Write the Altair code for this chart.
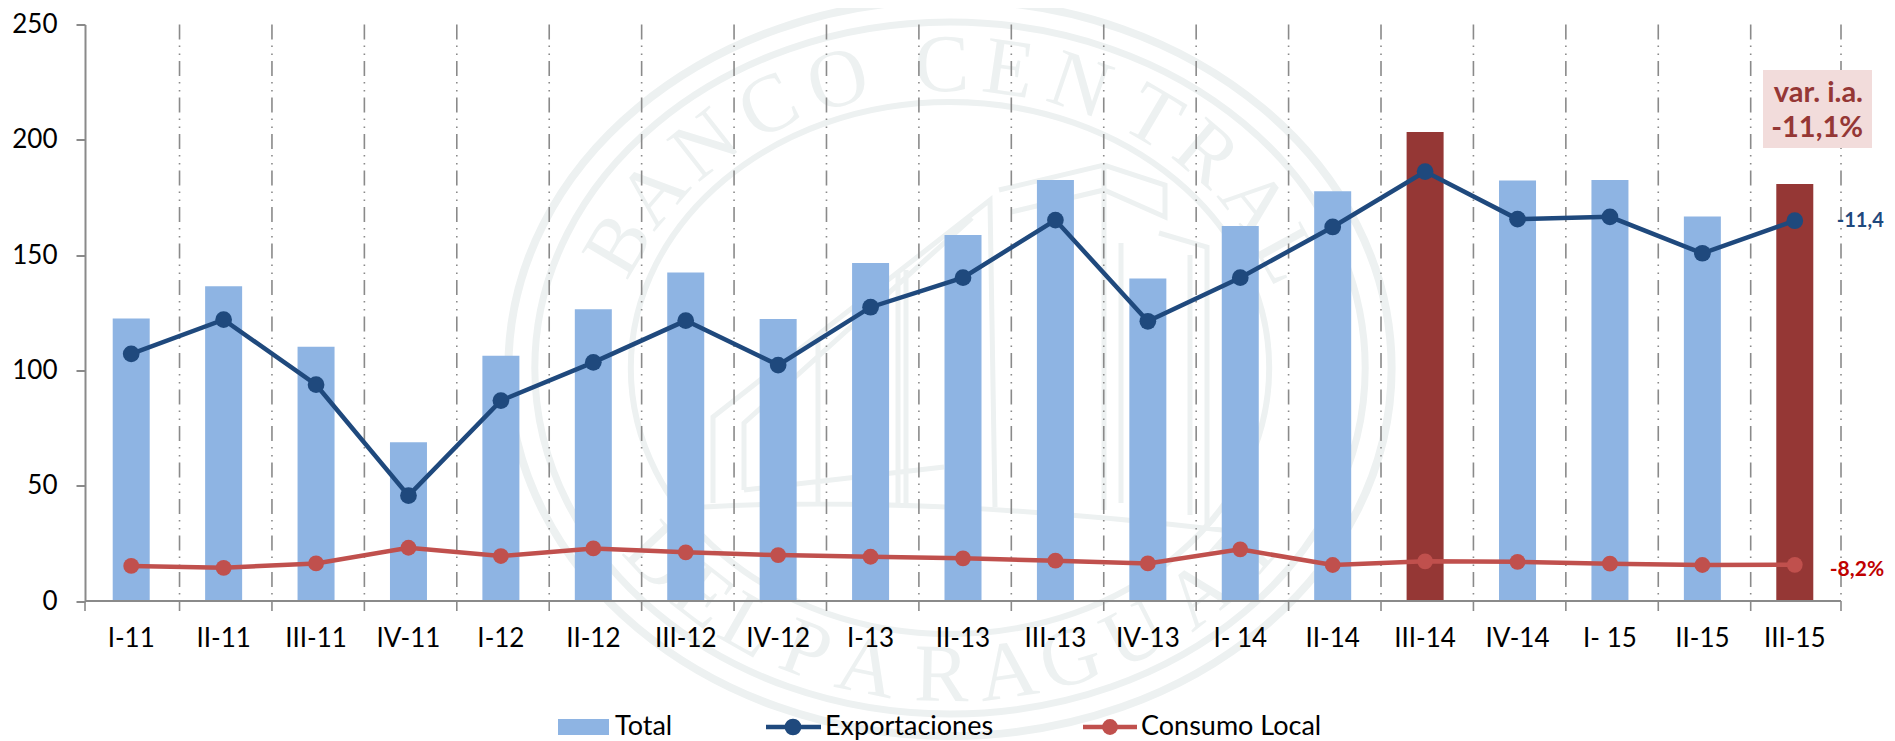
import math
import altair as alt
import pandas as pd

categories = ["I-11","II-11","III-11","IV-11","I-12","II-12","III-12","IV-12","I-13","II-13","III-13","IV-13","I- 14","II-14","III-14","IV-14","I- 15","II-15","III-15"]
total = [122.5,136.5,110.3,68.8,106.4,126.5,142.5,122.3,146.6,158.7,182.6,139.8,162.6,177.7,203.4,182.4,182.6,166.7,180.8]
exportaciones = [107.2,122.0,93.8,45.7,86.9,103.5,121.6,102.3,127.4,140.2,165.2,121.3,140.2,162.2,186.2,165.6,166.6,150.8,164.9]
consumo = [15.2,14.4,16.3,23.1,19.5,22.8,21.1,19.9,19.2,18.5,17.5,16.3,22.4,15.6,17.2,17.0,16.2,15.6,15.7]
highlight = ["III-14","III-15"]
y_ticks = [0,50,100,150,200,250]
series_names = ["Total","Exportaciones","Consumo Local"]
seal_top = list("BANCOCENTRAL")
seal_top_deg = [-66,-54.7,-42.5,-30,-18,-1.3,9.3,21,34,45,57,68]
seal_bottom = list("DELPARAGUAY")
seal_bottom_deg = [-52,-42,-33,-23,-13,-1.3,9,19,30,42.5,54]

W, H = 1756, 576.5
L, T = 85, 24.5
STEP = W / len(categories)
GAP = STEP * 0.3
FONT = "Lato"
GRID = "#8a8a8a"
WM = "#EDF1F1"

df = pd.DataFrame({"cat": categories, "total": total, "exp": exportaciones, "loc": consumo})
df["kind"] = ["red" if c in highlight else "blue" for c in categories]
xs = alt.Scale(domain=categories, paddingInner=0.6, paddingOuter=0.3)
ys = alt.Scale(domain=[0, 250], nice=False)
X = alt.X("cat:N", sort=categories, scale=xs, axis=None)
XE = alt.X("cat:N", sort=categories, scale=xs, axis=None, bandPosition=0)
one = pd.DataFrame({"a": [0]})

# watermark
CX, CY = 950 - L, 368 - T
def ellipse(rx, ry):
    return f"M{-rx},0A{rx},{ry} 0 1,1 {rx},0A{rx},{ry} 0 1,1 {-rx},0Z"
rings = []
for ry, sw in [(368, 8), (346, 7), (266, 6)]:
    rings.append(alt.Chart(one).mark_point(shape=ellipse(1.2, 1), size=(2*ry)**2, stroke=WM, strokeWidth=sw, fill=None, opacity=1, filled=False)
                 .encode(x=alt.value(CX), y=alt.value(CY)))
rows = []
for ch, d in zip(seal_top, seal_top_deg):
    a = math.radians(d)
    rows.append({"t": ch, "px": CX + 1.2*302*math.sin(a), "py": CY - 302*math.cos(a), "rot": (d*0.9) % 360})
for ch, d in zip(seal_bottom, seal_bottom_deg):
    a = math.radians(d)
    rows.append({"t": ch, "px": CX + 1.2*308*math.sin(a), "py": CY + 308*math.cos(a), "rot": (-d*0.9) % 360})
letters = alt.Chart(pd.DataFrame(rows)).mark_text(font="Liberation Serif", fontSize=82, color=WM, baseline="middle", align="center").encode(
    x=alt.X("px:Q", scale=None), y=alt.Y("py:Q", scale=None), text="t:N", angle=alt.Angle("rot:Q", scale=None))
building_path = (
    "M704,507Q917,495 1222,530"
    "M713,503L713,417L990,200L995,507"
    "M744,490L744,423L972,218"
    "M744,490L944,467"
    "M818,503L818,340M898,503L898,273M906,503L906,270"
    "M999,190L1104,165L1165,185L1165,217L1104,190L1011,212"
    "M1121,503L1121,243M1159,233L1207,247L1207,527M1190,255L1190,515M1104,165L1104,510"
)
building = alt.Chart(one).mark_point(shape=building_path, size=4, stroke=WM, strokeWidth=5, fill=None, opacity=1, filled=False).encode(x=alt.value(-L), y=alt.value(-T))

bars = alt.Chart(df).mark_bar(size=37).encode(
    x=X, y=alt.Y("total:Q", scale=ys, axis=alt.Axis(values=y_ticks, title=None, grid=False, domainColor=GRID, domainWidth=2, tickColor=GRID, tickWidth=2, tickSize=9, labelPadding=19, labelFont=FONT, labelFontSize=26, labelColor="#000000")),
    color=alt.Color("kind:N", scale=alt.Scale(domain=["blue","red"], range=["#8EB4E3","#953735"]), legend=None))

dash = [15, 6, 1.5, 6.5, 1.5, 6]
seps = alt.Chart(df.iloc[1:]).mark_rule(color=GRID, strokeWidth=1.6, strokeDash=dash, xOffset=-GAP*0.9238).encode(x=XE, y=alt.value(0), y2=alt.value(H))
sep_end = alt.Chart(one).mark_rule(color=GRID, strokeWidth=1.6, strokeDash=dash).encode(x=alt.value(W), y=alt.value(0), y2=alt.value(H))
ticks = alt.Chart(df.iloc[1:]).mark_rule(color=GRID, strokeWidth=1.6, xOffset=-GAP*0.9238).encode(x=XE, y=alt.value(H), y2=alt.value(H + 10))
tick0 = alt.Chart(one).mark_rule(color=GRID, strokeWidth=1.6).encode(x=alt.value(0), y=alt.value(H), y2=alt.value(H + 10))
tick1 = alt.Chart(one).mark_rule(color=GRID, strokeWidth=1.6).encode(x=alt.value(W), y=alt.value(H), y2=alt.value(H + 10))
base = alt.Chart(one).mark_rule(color=GRID, strokeWidth=2).encode(x=alt.value(0), x2=alt.value(W), y=alt.value(H))
labels = alt.Chart(df).mark_text(font=FONT, fontSize=26, color="#000000", baseline="middle").encode(x=X, y=alt.value(H + 38), text="cat:N")

def series(field, col, sz):
    b = alt.Chart(df)
    return (b.mark_line(color=col, strokeWidth=4.5).encode(x=X, y=alt.Y(f"{field}:Q", scale=ys)) +
            b.mark_point(color=col, fill=col, filled=True, opacity=1, size=sz).encode(x=X, y=alt.Y(f"{field}:Q", scale=ys)))

last = df.iloc[[-1]]
lab_exp = alt.Chart(last).mark_text(font=FONT, fontWeight="bold", fontSize=20, color="#1F497D", align="left", baseline="middle", dx=42).encode(x=X, y=alt.Y("exp:Q", scale=ys), text=alt.value("-11,4"))
lab_loc = alt.Chart(last).mark_text(font=FONT, fontWeight="bold", fontSize=21, color="#C00000", align="left", baseline="middle", dx=35, dy=5).encode(x=X, y=alt.Y("loc:Q", scale=ys), text=alt.value("-8,2%"))

box = alt.Chart(one).mark_rect(color="#F2DCDB").encode(x=alt.value(1763 - L), x2=alt.value(1872 - L), y=alt.value(70 - T), y2=alt.value(148 - T))
var1 = alt.Chart(one).mark_text(font=FONT, fontWeight="bold", fontSize=29, color="#953735", align="right", baseline="middle").encode(x=alt.value(1863 - L), y=alt.value(93 - T), text=alt.value("var. i.a."))
var2 = alt.Chart(one).mark_text(font=FONT, fontWeight="bold", fontSize=29, color="#953735", align="right", baseline="middle").encode(x=alt.value(1863 - L), y=alt.value(128 - T), text=alt.value("-11,1%"))

LY = 727 - T
leg = [
    alt.Chart(one).mark_rect(color="#8EB4E3").encode(x=alt.value(558 - L), x2=alt.value(609 - L), y=alt.value(719 - T), y2=alt.value(735 - T)),
    alt.Chart(one).mark_text(font=FONT, fontSize=27, color="#000000", align="left", baseline="middle").encode(x=alt.value(615 - L), y=alt.value(LY), text=alt.value(series_names[0])),
    alt.Chart(one).mark_rule(color="#1F497D", strokeWidth=4.5).encode(x=alt.value(766 - L), x2=alt.value(821 - L), y=alt.value(LY)),
    alt.Chart(one).mark_point(color="#1F497D", fill="#1F497D", filled=True, opacity=1, size=280).encode(x=alt.value(793 - L), y=alt.value(LY)),
    alt.Chart(one).mark_text(font=FONT, fontSize=27, color="#000000", align="left", baseline="middle").encode(x=alt.value(825 - L), y=alt.value(LY), text=alt.value(series_names[1])),
    alt.Chart(one).mark_rule(color="#C0504D", strokeWidth=4.5).encode(x=alt.value(1083 - L), x2=alt.value(1137 - L), y=alt.value(LY)),
    alt.Chart(one).mark_point(color="#C0504D", fill="#C0504D", filled=True, opacity=1, size=250).encode(x=alt.value(1110 - L), y=alt.value(LY)),
    alt.Chart(one).mark_text(font=FONT, fontSize=27, color="#000000", align="left", baseline="middle").encode(x=alt.value(1141 - L), y=alt.value(LY), text=alt.value(series_names[2])),
]

chart = alt.layer(*rings, building, letters, seps, sep_end, box, bars, base, ticks, tick0, tick1, labels,
                  series("exp", "#1F497D", 280), series("loc", "#C0504D", 250),
                  lab_exp, lab_loc, var1, var2, *leg).properties(
    width=W, height=H,
    autosize=alt.AutoSizeParams(type="none"),
    padding={"left": L - 8, "top": T - 8, "right": 1879 - W - (L - 8), "bottom": 733 - H - (T - 8)},
).configure_view(stroke=None).resolve_scale(color="independent")

chart.save("out.html", embed_options={"renderer": "svg", "actions": False})
